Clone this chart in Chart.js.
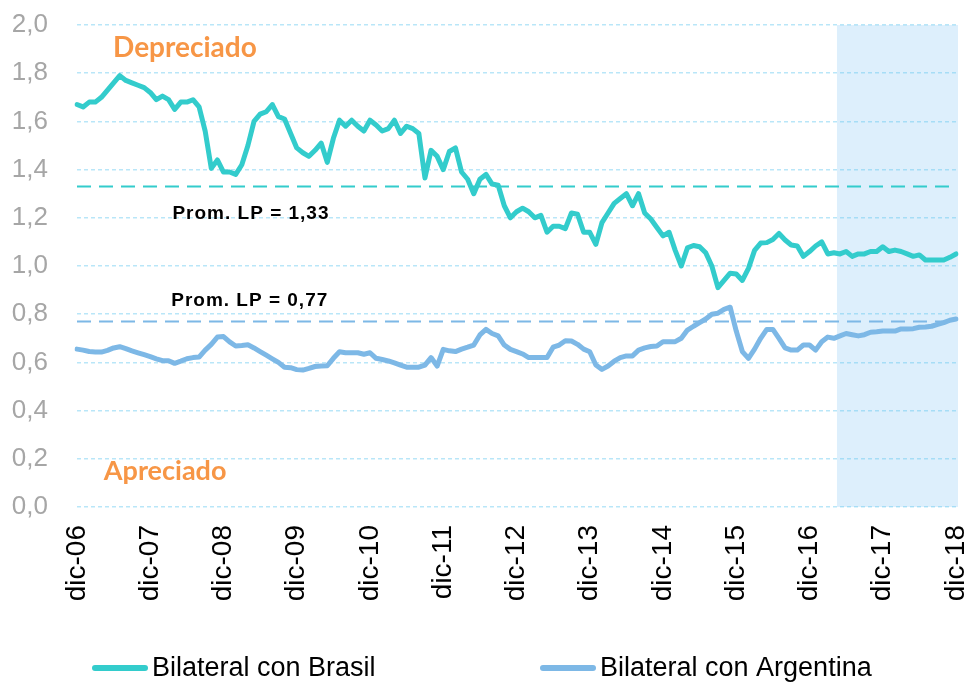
<!DOCTYPE html>
<html><head><meta charset="utf-8">
<script src="https://cdn.jsdelivr.net/npm/chart.js@4/dist/chart.umd.min.js"></script>
<style>html,body{margin:0;padding:0;background:#fff;overflow:hidden}</style>
</head><body>
<canvas id="c" width="968" height="688"></canvas>
<script>
// ---- categories ----
const monthNames = ['ene','feb','mar','abr','may','jun','jul','ago','sep','oct','nov','dic'];
const years = ['07','08','09','10','11','12','13','14','15','16','17','18'];
const labels = ['dic-06'];
years.forEach(y => monthNames.forEach(m => labels.push(m + '-' + y)));

// ---- series values ----
const brasil = [
1.67,1.66,1.68,1.68,1.70,1.73,1.76,1.79,1.77,1.76,1.75,1.74,
1.72,1.69,1.705,1.69,1.65,1.68,1.68,1.69,1.66,1.56,1.405,1.44,
1.39,1.39,1.38,1.42,1.50,1.60,1.63,1.64,1.67,1.62,1.61,1.55,
1.49,1.47,1.455,1.48,1.51,1.43,1.53,1.605,1.58,1.605,1.58,1.56,
1.605,1.585,1.56,1.57,1.605,1.55,1.58,1.57,1.55,1.365,1.48,1.455,
1.40,1.475,1.49,1.39,1.36,1.30,1.36,1.38,1.34,1.335,1.25,1.20,
1.225,1.24,1.225,1.20,1.21,1.14,1.165,1.165,1.155,1.22,1.215,1.14,
1.14,1.09,1.18,1.22,1.26,1.28,1.30,1.25,1.30,1.22,1.195,1.16,
1.125,1.14,1.065,1.00,1.075,1.085,1.08,1.055,1.00,0.91,0.94,0.97,
0.967,0.94,0.99,1.065,1.095,1.097,1.11,1.135,1.108,1.087,1.083,1.04,
1.06,1.083,1.10,1.05,1.055,1.05,1.06,1.04,1.05,1.05,1.06,1.06,
1.08,1.06,1.066,1.06,1.05,1.04,1.046,1.025,1.025,1.025,1.025,1.036,
1.05];
const argentina = [
0.655,0.651,0.645,0.643,0.643,0.65,0.66,0.665,0.657,0.648,0.64,0.632,
0.624,0.615,0.607,0.607,0.596,0.605,0.615,0.62,0.622,0.651,0.675,0.705,
0.707,0.685,0.668,0.67,0.673,0.66,0.645,0.63,0.615,0.60,0.58,0.578,
0.57,0.568,0.575,0.583,0.585,0.586,0.617,0.644,0.64,0.64,0.64,0.634,
0.64,0.617,0.612,0.606,0.598,0.589,0.58,0.58,0.58,0.589,0.62,0.585,
0.654,0.648,0.645,0.655,0.663,0.672,0.714,0.737,0.72,0.71,0.672,0.654,
0.645,0.635,0.62,0.62,0.62,0.62,0.663,0.672,0.69,0.689,0.675,0.655,
0.644,0.589,0.571,0.585,0.605,0.62,0.627,0.627,0.651,0.66,0.666,0.668,
0.686,0.686,0.686,0.70,0.734,0.75,0.765,0.78,0.80,0.804,0.82,0.829,
0.73,0.645,0.617,0.655,0.70,0.737,0.737,0.70,0.66,0.651,0.651,0.672,
0.672,0.651,0.686,0.705,0.70,0.71,0.72,0.715,0.71,0.715,0.725,0.727,
0.73,0.73,0.73,0.739,0.739,0.74,0.746,0.747,0.75,0.758,0.765,0.775,
0.78];
const avgBrasil = 1.33;
const avgArgentina = 0.77;
const seriesNames = ['Bilateral con Brasil','Bilateral con Argentina'];
const yTicks = [0,0.2,0.4,0.6,0.8,1.0,1.2,1.4,1.6,1.8,2.0];
const shadeFrom = ['abr-17','may-17'];   // shading starts between these months
const firstLabel = labels[0], lastLabel = labels[labels.length-1];

// ---- styles ----
const C_BRA = '#33CCCC', C_ARG = '#7DB8E6', C_ORANGE = '#F79646';
const fmt1 = v => v.toFixed(1).replace('.', ',');
const fmt2 = v => v.toFixed(2).replace('.', ',');

const shadePlugin = {
  id: 'shade',
  beforeDraw(chart) {
    const {ctx, chartArea: a, scales: {x}} = chart;
    const x0 = (x.getPixelForValue(labels.indexOf(shadeFrom[0])) + x.getPixelForValue(labels.indexOf(shadeFrom[1]))) / 2;
    ctx.save();
    ctx.fillStyle = '#DDEFFC';
    ctx.fillRect(x0, a.top, a.right + 2 - x0, a.bottom - a.top);
    ctx.restore();
  }
};

const textPlugin = {
  id: 'texts',
  afterDatasetsDraw(chart) {
    const {ctx, scales: {x, y}} = chart;
    ctx.save();
    ctx.textBaseline = 'middle';
    ctx.textAlign = 'left';
    ctx.fillStyle = C_ORANGE;
    ctx.font = 'bold 28px Lato, "Open Sans", sans-serif';
    ctx.fillText('Depreciado', x.getPixelForValue(5.9), y.getPixelForValue(1.905));
    ctx.font = 'bold 27px Lato, "Open Sans", sans-serif';
    ctx.fillText('Apreciado', x.getPixelForValue(4.4), y.getPixelForValue(0.15));
    ctx.fillStyle = '#000';
    ctx.textAlign = 'center';
    ctx.font = 'bold 19px "Liberation Sans", Arial, sans-serif';
    try { ctx.letterSpacing = '1px'; } catch (e) {}
    ctx.fillText('Prom. LP = ' + fmt2(avgBrasil), x.getPixelForValue(28.5), y.getPixelForValue(1.215));
    ctx.fillText('Prom. LP = ' + fmt2(avgArgentina), x.getPixelForValue(28.3), y.getPixelForValue(0.855));
    ctx.restore();
  }
};

const legendPlugin = {
  id: 'customLegend',
  afterDraw(chart) {
    const {ctx} = chart;
    const items = [
      {x: 92, color: C_BRA, text: seriesNames[0]},
      {x: 540, color: C_ARG, text: seriesNames[1]}
    ];
    const yc = 668;
    ctx.save();
    items.forEach(it => {
      ctx.strokeStyle = it.color;
      ctx.lineWidth = 6;
      ctx.lineCap = 'round';
      ctx.beginPath();
      ctx.moveTo(it.x + 3, yc);
      ctx.lineTo(it.x + 53, yc);
      ctx.stroke();
      ctx.fillStyle = '#000';
      ctx.font = '27px "Liberation Sans", Arial, sans-serif';
      ctx.textBaseline = 'middle';
      ctx.textAlign = 'left';
      ctx.fillText(it.text, it.x + 60, yc + 1);
    });
    ctx.restore();
  }
};

new Chart(document.getElementById('c'), {
  type: 'line',
  data: {
    labels,
    datasets: [
      {label: seriesNames[0], data: brasil, borderColor: C_BRA, borderWidth: 5, pointRadius: 0, tension: 0,
       borderJoinStyle: 'round', borderCapStyle: 'round', order: 1},
      {label: seriesNames[1], data: argentina, borderColor: C_ARG, borderWidth: 5, pointRadius: 0, tension: 0,
       borderJoinStyle: 'round', borderCapStyle: 'round', order: 1},
      {label: 'Prom. Brasil', data: [{x: firstLabel, y: avgBrasil}, {x: 'nov-18', y: avgBrasil}], borderColor: C_BRA,
       borderWidth: 2, borderDash: [14, 8], pointRadius: 0, order: 2},
      {label: 'Prom. Argentina', data: [{x: firstLabel, y: avgArgentina}, {x: lastLabel, y: avgArgentina}], borderColor: C_ARG,
       borderWidth: 2, borderDash: [14, 8], pointRadius: 0, order: 2}
    ]
  },
  options: {
    responsive: false,
    animation: false,
    devicePixelRatio: 1,
    layout: {padding: {top: 25, left: 0, right: 12, bottom: 60}},
    plugins: {legend: {display: false}, tooltip: {enabled: false}},
    scales: {
      x: {
        type: 'category',
        offset: false,
        grid: {display: false},
        border: {display: false},
        ticks: {
          autoSkip: false, maxRotation: 90, minRotation: 90, padding: 10,
          color: '#000', font: {family: '"Liberation Sans", Arial, sans-serif', size: 28},
          callback: (v, i) => labels[i].startsWith('dic') ? labels[i] : null
        },
        afterFit(s) { s.height = 121; s.paddingLeft = 0; s.paddingRight = 0; }
      },
      y: {
        min: 0, max: 2,
        afterBuildTicks(s) { s.ticks = yTicks.map(v => ({value: v})); },
        grid: {color: 'rgba(100,200,240,0.45)', lineWidth: 1.5, drawTicks: false},
        border: {display: false, dash: [4, 3]},
        ticks: {padding: 29, color: '#A6A6A6', font: {family: '"Liberation Sans", Arial, sans-serif', size: 26},
          callback: v => fmt1(v)},
        afterFit(s) { s.width = 77; s.paddingTop = 0; s.paddingBottom = 0; }
      }
    }
  },
  plugins: [shadePlugin, textPlugin, legendPlugin]
});
</script>
</body></html>
